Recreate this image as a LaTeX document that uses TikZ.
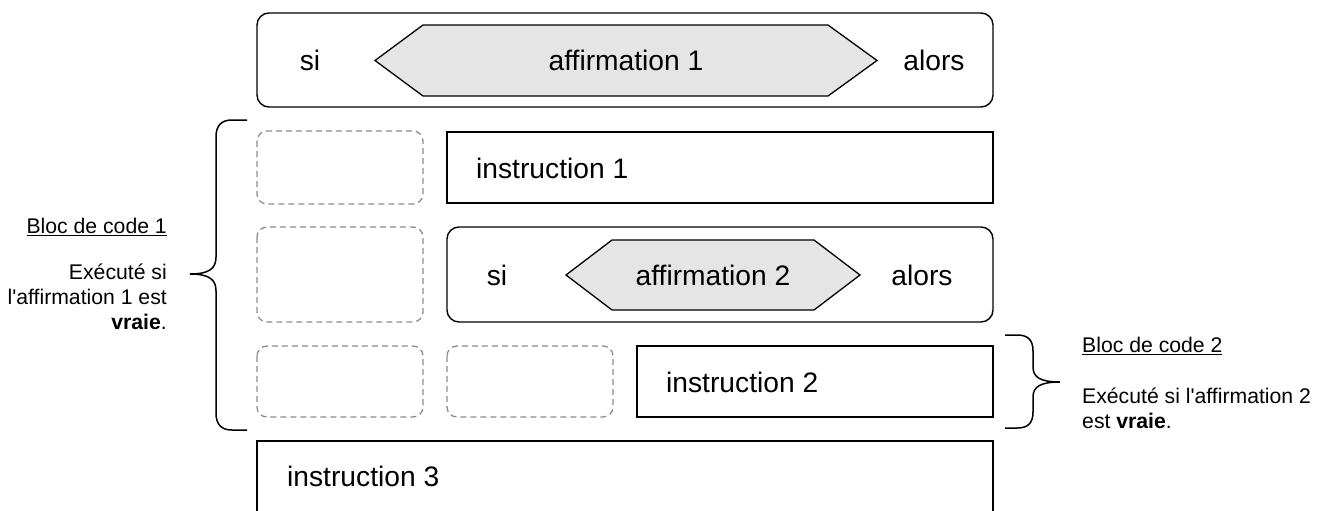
\documentclass[tikz,border=0pt]{standalone}
\usepackage{fontspec}
\setmainfont{Liberation Sans}[Ligatures=TeXOff]
\begin{document}
\begin{tikzpicture}[x=1pt,y=-1pt,
  big/.style={font=\fontsize{28.2}{34}\selectfont, inner sep=0pt},
  small/.style={font=\fontsize{21.2}{25}\selectfont, inner sep=0pt},
  solidbox/.style={draw=black, line width=1.4pt},
  roundbox/.style={draw=black, line width=1.4pt, rounded corners=12pt},
  dashbox/.style={draw=black!45, line width=1.3pt, dash pattern=on 6pt off 4pt, rounded corners=10pt},
  hexa/.style={draw=black, line width=1.3pt, fill=black!10, line join=miter},
  bracestyle/.style={draw=black, line width=1.5pt}]
\useasboundingbox (0,0) rectangle (1327,511);
% top row
\draw[roundbox] (257,13) rectangle (993,107);
\coordinate (h1l) at (375,60.5);
\coordinate (h1r) at (877,60.5);
\draw[hexa] (h1l) -- (423,25) -- (828,25) -- (h1r) -- (828,96) -- (423,96) -- cycle;
\node[big] (si1) at (310,60.5) {si};
\node[big] (aff1) at (626,60.5) {affirmation 1};
\node[big] (alors1) at (934,60.5) {alors};
% row 1
\draw[dashbox] (257,131) rectangle (423,204);
\draw[solidbox] (447,132) rectangle (993,203);
\node[big, anchor=west] (ins1) at (476,168) {instruction 1};
% row 2
\draw[dashbox] (257,227) rectangle (423,322);
\draw[roundbox] (447,227) rectangle (993,322);
\coordinate (h2l) at (566,275);
\coordinate (h2r) at (860,275);
\draw[hexa] (h2l) -- (612,240) -- (814,240) -- (h2r) -- (814,310) -- (612,310) -- cycle;
\node[big] (si2) at (497,275) {si};
\node[big] (aff2) at (713,275) {affirmation 2};
\node[big] (alors2) at (922,275) {alors};
% row 3
\draw[dashbox] (257,346) rectangle (423,417);
\draw[dashbox] (447,346) rectangle (613,417);
\draw[solidbox] (637,346) rectangle (993,417);
\node[big, anchor=west] (ins2) at (666,382) {instruction 2};
% row 4
\draw[solidbox] (257,441) rectangle (993,530);
\node[big, anchor=west] (ins3) at (287,476) {instruction 3};
% left brace
\coordinate (lb) at (190,274);
\draw[bracestyle] (247,120) -- (232,120) .. controls (221,120) and (216,126) .. (216,137)
  -- (216,257) .. controls (216,268) and (210,274) .. (lb)
  .. controls (210,274) and (216,280) .. (216,291)
  -- (216,413) .. controls (216,424) and (221,430) .. (232,430) -- (247,430);
% right brace
\coordinate (rb) at (1060,382);
\draw[bracestyle] (1005,335) -- (1017,335) .. controls (1028,335) and (1033,340) .. (1033,351)
  -- (1033,367) .. controls (1033,377) and (1040,382) .. (rb)
  .. controls (1040,382) and (1033,387) .. (1033,397)
  -- (1033,412) .. controls (1033,423) and (1028,428) .. (1017,428) -- (1005,428);
% left text
\node[small, anchor=east] (bloc1) at (167,227) {\underline{Bloc de code 1}};
\node[small, anchor=east, align=right] (desc1) at (167,297) {Exécuté si\\[0pt]l'affirmation 1 est\\[0pt]\textbf{vraie}.};
% right text
\node[small, anchor=west] (bloc2) at (1082,346) {\underline{Bloc de code 2}};
\node[small, anchor=west, align=left] (desc2) at (1082,408) {Exécuté si l'affirmation 2\\[0pt]est \textbf{vraie}.};
\end{tikzpicture}
\end{document}
